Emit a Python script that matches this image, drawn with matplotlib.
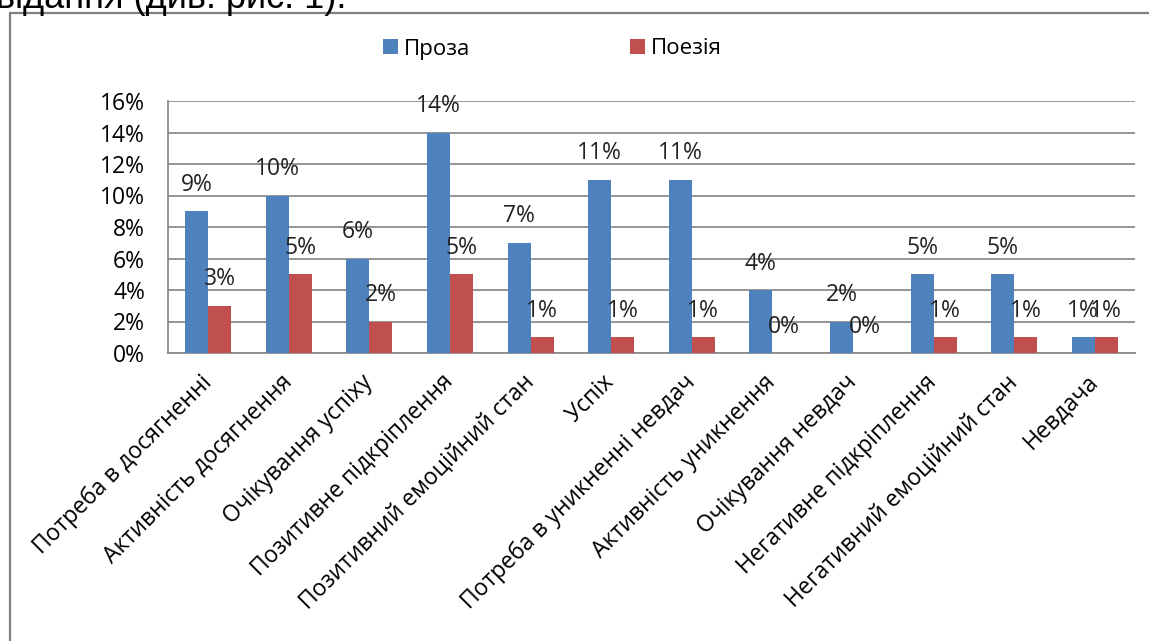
import matplotlib
matplotlib.use("Agg")
import matplotlib.pyplot as plt
import numpy as np
from matplotlib.patches import Rectangle
from matplotlib.ticker import FixedLocator

categories = [
    "Потреба в досягненні",
    "Активність досягнення",
    "Очікування успіху",
    "Позитивне підкріплення",
    "Позитивний емоційний стан",
    "Успіх",
    "Потреба в уникненні невдач",
    "Активність уникнення",
    "Очікування невдач",
    "Негативне підкріплення",
    "Негативний емоційний стан",
    "Невдача",
]
prose = [9, 10, 6, 14, 7, 11, 11, 4, 2, 5, 5, 1]
poetry = [3, 5, 2, 5, 1, 1, 1, 0, 0, 1, 1, 1]
series_names = ["Проза", "Поезія"]
y_ticks = [0, 2, 4, 6, 8, 10, 12, 14, 16]

BLUE = "#4F81BD"
RED = "#C0504D"
GRID = "#8C8C8C"
FONT = ["Open Sans", "DejaVu Sans"]

W, H = 1149, 641
fig = plt.figure(figsize=(W / 100, H / 100), dpi=100)

# outer chart frame (partly outside the canvas)
fig.patches.append(Rectangle((10 / W, -0.2), 1.5, 1.2 - 13 / H,
                             transform=fig.transFigure, fill=False,
                             edgecolor="#808080", linewidth=1.6, clip_on=False))

# tail of the preceding paragraph line
fig.text(-4 / W, 1 - 8 / H, "відання (див. рис. 1).", fontsize=26,
         family=["Liberation Sans", "DejaVu Sans"], color="black",
         ha="left", va="baseline")

ax = fig.add_axes([168 / W, 1 - 353 / H, (1135 - 168) / W, (353 - 101) / H])

x = np.arange(len(categories))
bw = 1 / 3.5
b1 = ax.bar(x - bw / 2, prose, bw, color=BLUE, label=series_names[0], zorder=3)
b2 = ax.bar(x + bw / 2, poetry, bw, color=RED, label=series_names[1], zorder=3)

for bars, vals in ((b1, prose), (b2, poetry)):
    for rect, v in zip(bars, vals):
        ax.annotate(f"{v}%", (rect.get_x() + rect.get_width() / 2, v),
                    xytext=(0, 19), textcoords="offset points",
                    ha="center", va="center", fontsize=16.5, family=FONT,
                    color="#222222", zorder=5)

ax.set_xlim(-0.5, len(categories) - 0.5)
ax.set_ylim(0, 16)
ax.yaxis.set_major_locator(FixedLocator(y_ticks))
ax.set_yticklabels([f"{t}%" for t in y_ticks], fontsize=16.5, family=FONT)
ax.grid(axis="y", color=GRID, linewidth=1.3, zorder=0)
ax.tick_params(axis="y", length=0, pad=16.5)
ax.tick_params(axis="x", length=0, pad=18.5)
ax.set_xticks(x)
ax.set_xticklabels(categories, rotation=45, ha="right", va="center",
                   rotation_mode="anchor", fontsize=16.5, family=FONT)
for side in ("top", "right"):
    ax.spines[side].set_visible(False)
for side in ("left", "bottom"):
    ax.spines[side].set_color(GRID)
    ax.spines[side].set_linewidth(1.3)

leg = fig.legend(handles=[b1, b2], labels=series_names, loc="center",
                 bbox_to_anchor=(552 / W, 1 - 49 / H), ncol=2, frameon=False,
                 prop={"family": FONT, "size": 16}, handlelength=0.68,
                 handleheight=0.68, handletextpad=0.25, columnspacing=7.2)

fig.savefig("out.png", dpi=100, facecolor="white")
